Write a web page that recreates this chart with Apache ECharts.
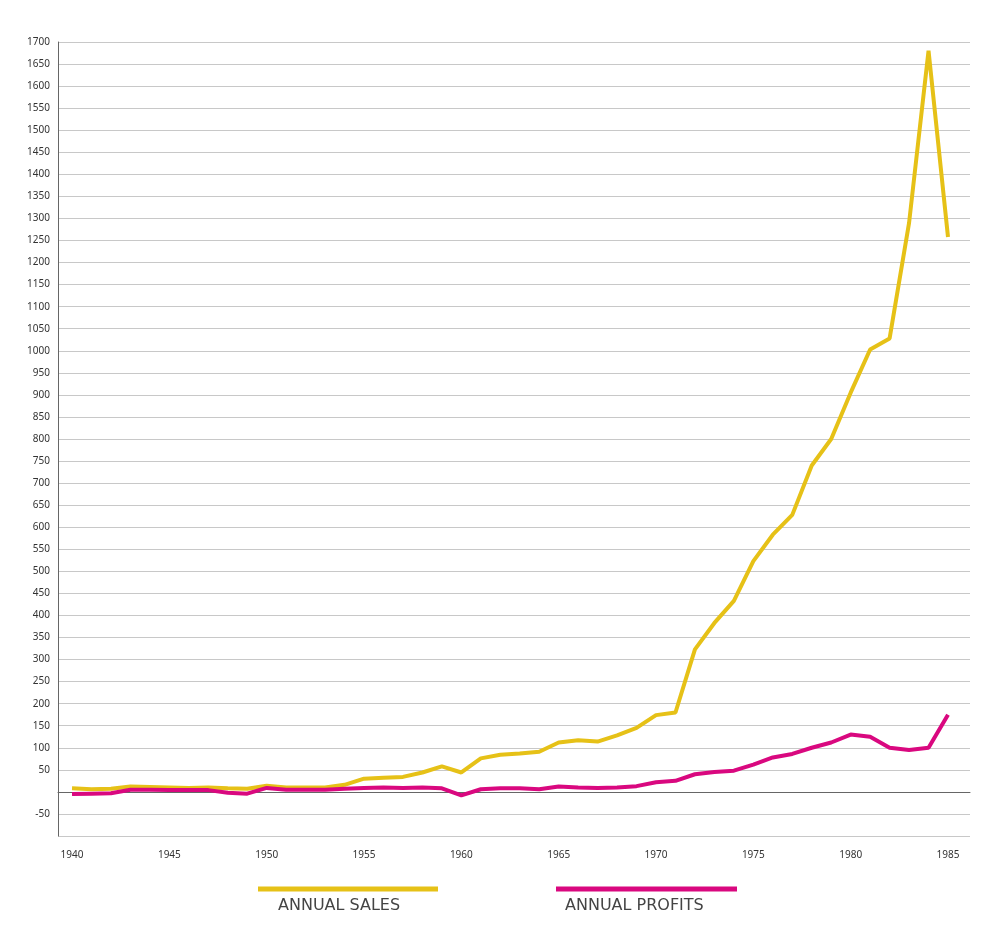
<!DOCTYPE html><html><head><meta charset="utf-8"><script src="https://cdn.jsdelivr.net/npm/echarts@6/dist/echarts.min.js"></script></head><body style="margin:0;background:#fff"><div id="c" style="width:1000px;height:946px"></div><script>
const years=[];for(let y=1940;y<=1985;y++)years.push(y);
const sales=[8,6,7,12,11,10,9,10,8,7,14,10,10,10,16,30,32,34,44,58,44,76,84,87,91,112,117,114,128,145,174,180,323,383,433,523,583,628,740,800,905,1003,1028,1290,1680,1258];
const profits=[-5,-4,-3,5,5,4,4,4,-2,-4,9,5,5,5,7,9,10,9,10,8,-8,6,8,8,6,12,10,9,10,13,22,25,40,45,48,62,78,86,100,112,130,125,100,95,100,175];
const xTicks=[1940,1945,1950,1955,1960,1965,1970,1975,1980,1985];
const c=echarts.init(document.getElementById('c'));
const f='"Noto Sans", sans-serif';
c.setOption({animation:false,
grid:{left:58,right:30,top:42,bottom:110},
xAxis:{type:'value',min:1939.28,max:1986.13,axisLine:{onZero:true,lineStyle:{color:'#666'}},splitLine:{show:false},
 axisTick:{show:false,customValues:xTicks},axisLabel:{customValues:xTicks,color:'#333',fontSize:10,fontFamily:f,margin:14,formatter:v=>String(v)}},
yAxis:{type:'value',min:-100,max:1700,interval:50,axisLine:{show:true,lineStyle:{color:'#666'}},axisTick:{show:false},
 splitLine:{lineStyle:{color:'#c8c8c8'}},axisLabel:{color:'#333',fontSize:10,fontFamily:f,formatter:v=>(v===0||v===-100)?'':String(v)}},
series:[
 {type:'line',data:years.map((y,i)=>[y,sales[i]]),symbol:'none',lineStyle:{color:'#E6C117',width:4}},
 {type:'line',data:years.map((y,i)=>[y,profits[i]]),symbol:'none',lineStyle:{color:'#D9087F',width:4}}],
graphic:[
 {type:'line',shape:{x1:258,y1:889,x2:438,y2:889},style:{stroke:'#E6C117',lineWidth:5}},
 {type:'text',left:278,top:898,style:{text:'ANNUAL SALES',fontSize:16,fill:'#444',fontFamily:'"DejaVu Sans"'}},
 {type:'line',shape:{x1:556,y1:889,x2:737,y2:889},style:{stroke:'#D9087F',lineWidth:5}},
 {type:'text',left:565,top:898,style:{text:'ANNUAL PROFITS',fontSize:16,fill:'#444',fontFamily:'"DejaVu Sans"'}}]
});
</script></body></html>
